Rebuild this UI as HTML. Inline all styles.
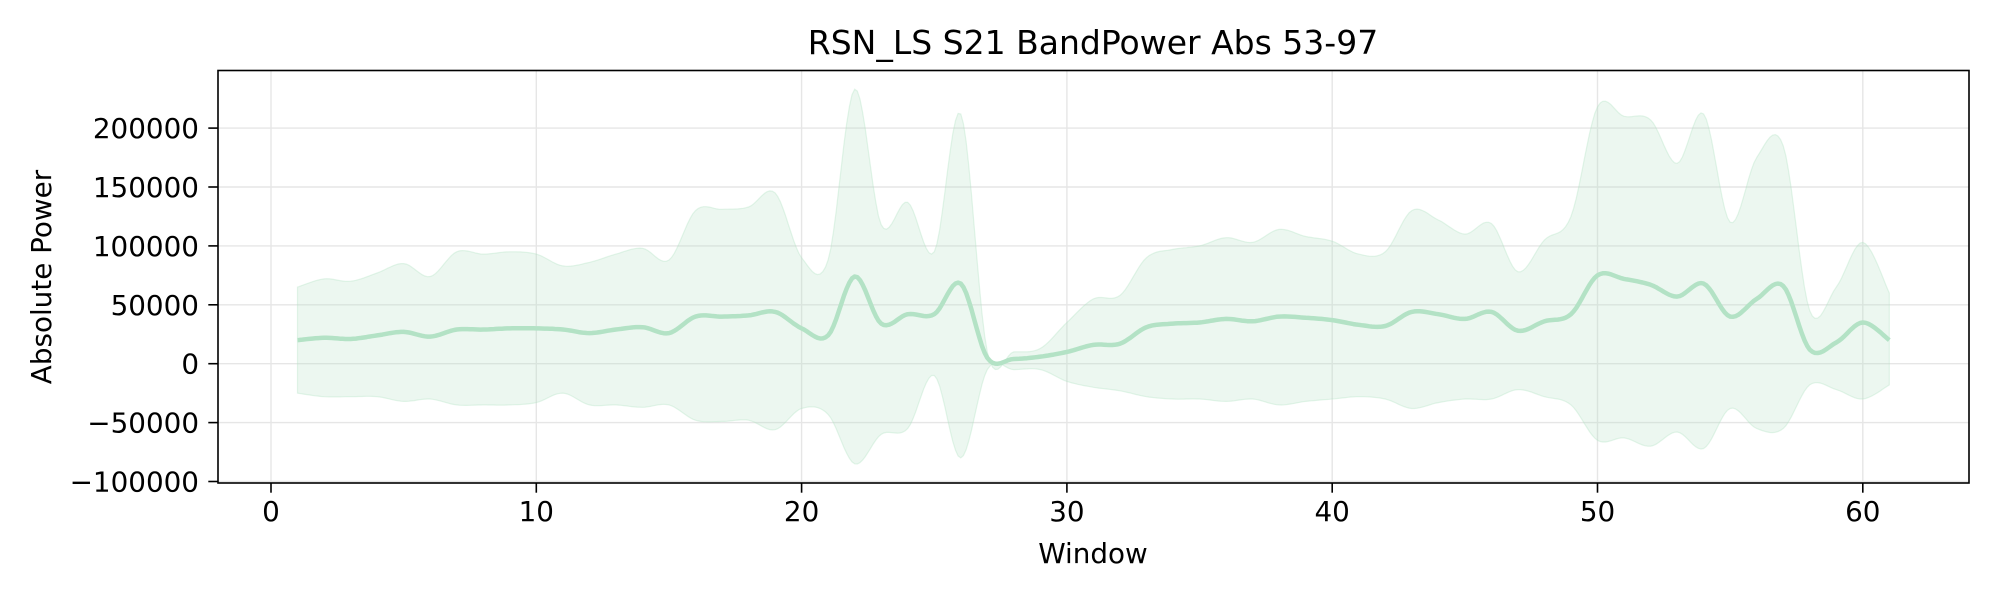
<!DOCTYPE html>
<html><head><meta charset="utf-8"><style>
html,body{margin:0;padding:0;background:#fff;}
svg{display:block;font-family:"DejaVu Sans","Liberation Sans",sans-serif;}
</style></head><body>
<svg id="chart" width="2000" height="600" viewBox="0 0 2000 600" xmlns="http://www.w3.org/2000/svg">
<rect width="2000" height="600" fill="#fff"/>
<g id="grid"></g>
<g id="plot"></g>
<rect x="218" y="70.5" width="1751" height="412.5" fill="none" stroke="#000" stroke-width="1.6"/>
<g id="ticks"></g>
<text x="1093" y="54" font-size="33" text-anchor="middle">RSN_LS S21 BandPower Abs 53-97</text>
<text x="1093" y="563" font-size="27.8" text-anchor="middle">Window</text>
<text transform="translate(51,277) rotate(-90)" font-size="27.8" text-anchor="middle">Absolute Power</text>
</svg>
<script>
const windows = [];
for (let i = 1; i <= 61; i++) windows.push(i);
const meanValues = [20000,22000,21000,24000,27000,23000,29000,29000,30000,30000,29000,26000,29000,31000,26000,40000,40000,41000,44000,30000,24000,74000,34000,42000,42000,68000,5000,4000,6000,10000,16000,17000,31000,34000,35000,38000,36000,40000,39000,37000,33000,32000,44000,42000,38000,44000,28000,36000,42000,75000,72000,67000,57000,68000,40000,55000,66000,12000,18000,35000,20000];
const upperValues = [65000,72000,70000,77000,85000,74000,95000,93000,95000,93000,83000,86000,93000,98000,88000,130000,131000,133000,145000,90000,88000,233000,118000,137000,95000,212000,10000,10000,13000,35000,55000,58000,90000,97000,100000,107000,103000,114000,108000,104000,93000,95000,130000,122000,110000,119000,78000,105000,125000,218000,210000,207000,170000,212000,120000,175000,185000,45000,65000,103000,60000];
const lowerValues = [-25000,-28000,-28000,-28000,-32000,-30000,-35000,-35000,-35000,-33000,-25000,-35000,-35000,-37000,-35000,-48000,-49000,-48000,-56000,-38000,-43000,-85000,-60000,-55000,-10000,-80000,-5000,-5000,-5000,-15000,-20000,-23000,-28000,-30000,-30000,-32000,-30000,-35000,-32000,-30000,-28000,-30000,-38000,-33000,-30000,-30000,-22000,-28000,-35000,-65000,-63000,-70000,-58000,-72000,-38000,-55000,-55000,-18000,-22000,-30000,-18000];
const xTicks = [0,10,20,30,40,50,60];
const yTicks = [-100000,-50000,0,50000,100000,150000,200000];

const NS = "http://www.w3.org/2000/svg";
const X0 = 271, XU = 26.53, Y0 = 363.7, YU = 117.8/100000;
const xs = v => X0 + v * XU;
const ys = v => Y0 - v * YU;
const L = 218, R = 1969, T = 70.5, B = 483;

function mk(tag, attrs, parent) {
  const e = document.createElementNS(NS, tag);
  for (const k in attrs) e.setAttribute(k, attrs[k]);
  parent.appendChild(e);
  return e;
}
function smoothPts(xv, yv) {
  const p = xv.map((x, i) => [xs(x), ys(yv[i])]);
  const out = [];
  for (let i = 0; i < p.length - 1; i++) {
    const p0 = p[Math.max(0, i - 1)], p1 = p[i], p2 = p[i + 1], p3 = p[Math.min(p.length - 1, i + 2)];
    for (let t = 0; t < 1; t += 0.1) {
      const t2 = t * t, t3 = t2 * t;
      const f = (a, b, c, d) => 0.5 * ((2 * b) + (-a + c) * t + (2 * a - 5 * b + 4 * c - d) * t2 + (-a + 3 * b - 3 * c + d) * t3);
      out.push([f(p0[0], p1[0], p2[0], p3[0]), f(p0[1], p1[1], p2[1], p3[1])]);
    }
  }
  out.push(p[p.length - 1]);
  return out;
}
const grid = document.getElementById('grid');
const ticks = document.getElementById('ticks');
const plot = document.getElementById('plot');

xTicks.forEach(v => {
  const gl = mk('line', {x1: xs(v), x2: xs(v), y1: T, y2: B, stroke: '#e6e6e6', 'stroke-width': 1.4}, grid);
  
  
  const tl = mk('line', {x1: xs(v), x2: xs(v), y1: B, y2: B + 9.7, stroke: '#000', 'stroke-width': 1.6}, ticks);
  
  
  const tx = mk('text', {x: xs(v), y: B + 38, 'font-size': 27.8, 'text-anchor': 'middle'}, ticks);
  tx.textContent = v;
  
  
});
yTicks.forEach(v => {
  const gl = mk('line', {x1: L, x2: R, y1: ys(v), y2: ys(v), stroke: '#e6e6e6', 'stroke-width': 1.4}, grid);
  
  
  const tl = mk('line', {x1: L - 9.7, x2: L, y1: ys(v), y2: ys(v), stroke: '#000', 'stroke-width': 1.6}, ticks);
  
  
  const tx = mk('text', {x: L - 19, y: ys(v) + 10, 'font-size': 27.8, 'text-anchor': 'end'}, ticks);
  tx.textContent = v < 0 ? '\u2212' + Math.abs(v) : v;
  
  
});

const up = smoothPts(windows, upperValues);
const lo = smoothPts(windows, lowerValues).reverse();
const bandD = 'M' + up.concat(lo).map(p => p[0].toFixed(1) + ',' + p[1].toFixed(1)).join('L') + 'Z';
const band = mk('path', {d: bandD, fill: 'rgba(178,225,196,0.25)', stroke: 'rgba(178,225,196,0.35)', 'stroke-width': 1.2}, plot);


const mp = smoothPts(windows, meanValues);
const line = mk('path', {d: 'M' + mp.map(p => p[0].toFixed(1) + ',' + p[1].toFixed(1)).join('L'), fill: 'none', stroke: '#b3e2c5', 'stroke-width': 4.5, 'stroke-linejoin': 'round'}, plot);


</script>
</body></html>
